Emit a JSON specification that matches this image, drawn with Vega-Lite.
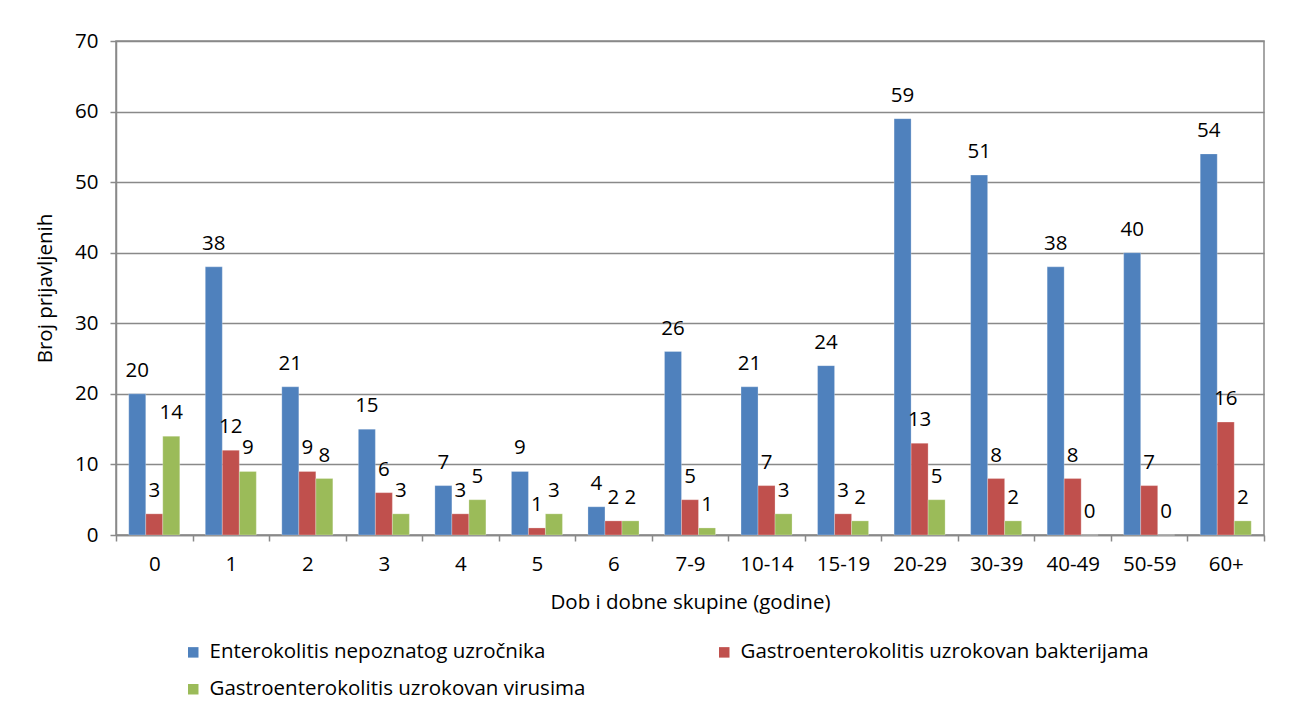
{
  "$schema": "https://vega.github.io/schema/vega-lite/v6.json",
  "width": 1148,
  "height": 494,
  "autosize": {"type": "none"},
  "padding": {"left": 116, "top": 41, "right": 26, "bottom": 171},
  "background": "white",
  "config": {
    "font": "Open Sans",
    "view": {"stroke": "#898989", "strokeWidth": 1.5},
    "axis": {
      "labelFont": "Open Sans", "titleFont": "Open Sans",
      "labelFontSize": 20.5, "titleFontSize": 20.5,
      "labelColor": "#000", "titleColor": "#000",
      "titleFontWeight": "normal",
      "domainColor": "#898989", "tickColor": "#898989", "gridColor": "#898989",
      "domainWidth": 1.5, "tickWidth": 1.5, "gridWidth": 1.5
    },
    "legend": {"labelFont": "Open Sans", "labelFontSize": 20.5, "labelColor": "#000"}
  },
  "data": {
    "values": [
      {"age": "0", "s": "Enterokolitis nepoznatog uzročnika", "v": 20},
      {"age": "0", "s": "Gastroenterokolitis uzrokovan bakterijama", "v": 3},
      {"age": "0", "s": "Gastroenterokolitis uzrokovan virusima", "v": 14},
      {"age": "1", "s": "Enterokolitis nepoznatog uzročnika", "v": 38},
      {"age": "1", "s": "Gastroenterokolitis uzrokovan bakterijama", "v": 12},
      {"age": "1", "s": "Gastroenterokolitis uzrokovan virusima", "v": 9},
      {"age": "2", "s": "Enterokolitis nepoznatog uzročnika", "v": 21},
      {"age": "2", "s": "Gastroenterokolitis uzrokovan bakterijama", "v": 9},
      {"age": "2", "s": "Gastroenterokolitis uzrokovan virusima", "v": 8},
      {"age": "3", "s": "Enterokolitis nepoznatog uzročnika", "v": 15},
      {"age": "3", "s": "Gastroenterokolitis uzrokovan bakterijama", "v": 6},
      {"age": "3", "s": "Gastroenterokolitis uzrokovan virusima", "v": 3},
      {"age": "4", "s": "Enterokolitis nepoznatog uzročnika", "v": 7},
      {"age": "4", "s": "Gastroenterokolitis uzrokovan bakterijama", "v": 3},
      {"age": "4", "s": "Gastroenterokolitis uzrokovan virusima", "v": 5},
      {"age": "5", "s": "Enterokolitis nepoznatog uzročnika", "v": 9},
      {"age": "5", "s": "Gastroenterokolitis uzrokovan bakterijama", "v": 1},
      {"age": "5", "s": "Gastroenterokolitis uzrokovan virusima", "v": 3},
      {"age": "6", "s": "Enterokolitis nepoznatog uzročnika", "v": 4},
      {"age": "6", "s": "Gastroenterokolitis uzrokovan bakterijama", "v": 2},
      {"age": "6", "s": "Gastroenterokolitis uzrokovan virusima", "v": 2},
      {"age": "7-9", "s": "Enterokolitis nepoznatog uzročnika", "v": 26},
      {"age": "7-9", "s": "Gastroenterokolitis uzrokovan bakterijama", "v": 5},
      {"age": "7-9", "s": "Gastroenterokolitis uzrokovan virusima", "v": 1},
      {"age": "10-14", "s": "Enterokolitis nepoznatog uzročnika", "v": 21},
      {"age": "10-14", "s": "Gastroenterokolitis uzrokovan bakterijama", "v": 7},
      {"age": "10-14", "s": "Gastroenterokolitis uzrokovan virusima", "v": 3},
      {"age": "15-19", "s": "Enterokolitis nepoznatog uzročnika", "v": 24},
      {"age": "15-19", "s": "Gastroenterokolitis uzrokovan bakterijama", "v": 3},
      {"age": "15-19", "s": "Gastroenterokolitis uzrokovan virusima", "v": 2},
      {"age": "20-29", "s": "Enterokolitis nepoznatog uzročnika", "v": 59},
      {"age": "20-29", "s": "Gastroenterokolitis uzrokovan bakterijama", "v": 13},
      {"age": "20-29", "s": "Gastroenterokolitis uzrokovan virusima", "v": 5},
      {"age": "30-39", "s": "Enterokolitis nepoznatog uzročnika", "v": 51},
      {"age": "30-39", "s": "Gastroenterokolitis uzrokovan bakterijama", "v": 8},
      {"age": "30-39", "s": "Gastroenterokolitis uzrokovan virusima", "v": 2},
      {"age": "40-49", "s": "Enterokolitis nepoznatog uzročnika", "v": 38},
      {"age": "40-49", "s": "Gastroenterokolitis uzrokovan bakterijama", "v": 8},
      {"age": "40-49", "s": "Gastroenterokolitis uzrokovan virusima", "v": 0},
      {"age": "50-59", "s": "Enterokolitis nepoznatog uzročnika", "v": 40},
      {"age": "50-59", "s": "Gastroenterokolitis uzrokovan bakterijama", "v": 7},
      {"age": "50-59", "s": "Gastroenterokolitis uzrokovan virusima", "v": 0},
      {"age": "60+", "s": "Enterokolitis nepoznatog uzročnika", "v": 54},
      {"age": "60+", "s": "Gastroenterokolitis uzrokovan bakterijama", "v": 16},
      {"age": "60+", "s": "Gastroenterokolitis uzrokovan virusima", "v": 2}
    ]
  },
  "encoding": {
    "x": {
      "field": "age", "type": "nominal", "sort": null,
      "scale": {"paddingInner": 0, "paddingOuter": 0},
      "axis": {
        "title": "Dob i dobne skupine (godine)", "labelAngle": 0,
        "tickBand": "extent", "tickSize": 6, "labelPadding": 13, "titlePadding": 18
      }
    },
    "xOffset": {
      "field": "s", "type": "nominal",
      "scale": {
        "domain": ["Enterokolitis nepoznatog uzročnika", "Gastroenterokolitis uzrokovan bakterijama", "Gastroenterokolitis uzrokovan virusima"],
        "paddingInner": 0, "paddingOuter": 0.75
      }
    },
    "y": {
      "field": "v", "type": "quantitative",
      "scale": {"domain": [0, 70], "nice": false},
      "axis": {
        "title": "Broj prijavljenih", "values": [0, 10, 20, 30, 40, 50, 60, 70],
        "labelOverlap": false,
        "tickSize": 6, "labelPadding": 12, "titlePadding": 19
      }
    }
  },
  "layer": [
    {
      "mark": {"type": "bar", "stroke": "white", "strokeWidth": 0.5, "strokeOpacity": 0.5},
      "encoding": {
        "color": {
          "field": "s", "type": "nominal",
          "scale": {
            "domain": ["Enterokolitis nepoznatog uzročnika", "Gastroenterokolitis uzrokovan bakterijama", "Gastroenterokolitis uzrokovan virusima"],
            "range": ["#4F81BD", "#C0504D", "#9BBB59"]
          },
          "legend": {
            "title": null, "orient": "none", "legendX": 67, "legendY": 601,
            "direction": "horizontal", "columns": 2, "columnPadding": 128,
            "rowPadding": 16, "symbolType": "square", "symbolSize": 110,
            "symbolStrokeWidth": 0, "labelLimit": 600, "symbolOffset": 0, "labelOffset": 6
          }
        }
      }
    },
    {
      "mark": {"type": "text", "baseline": "bottom", "dy": -13, "fontSize": 20.5, "font": "Open Sans", "color": "#000"},
      "encoding": {"text": {"field": "v", "type": "quantitative"}}
    }
  ]
}
